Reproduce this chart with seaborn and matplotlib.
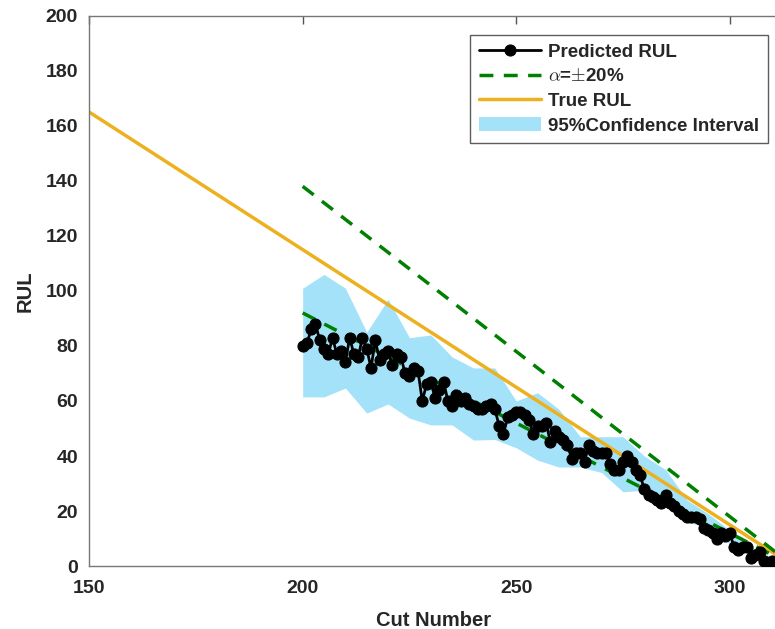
import numpy as np
import pandas as pd
import matplotlib
matplotlib.use('Agg')
import matplotlib.pyplot as plt
import seaborn as sns

# predicted RUL per cut
cuts = list(range(200, 312))
pred_rul = [80, 81, 86, 88, 82, 79, 77, 83, 77, 78,
            74, 83, 77, 76, 83, 79, 72, 82, 75, 77,
            78, 73, 77, 76, 70, 69, 72, 71, 60, 66,
            67, 61, 64, 67, 60, 58, 62, 60, 61, 59,
            58, 57, 57, 58, 59, 57, 51, 48, 54, 55,
            56, 56, 55, 53, 48, 51, 51, 52, 45, 49,
            47, 46, 44, 39, 41, 41, 38, 44, 42, 41,
            41, 41, 37, 35, 35, 38, 40, 38, 35, 33,
            28, 26, 25, 24, 23, 26, 23, 22, 20, 19,
            18, 18, 18, 17, 14, 13, 12, 10, 12, 11,
            12, 7, 6, 7, 7, 3, 4, 5, 2, 1,
            2, 1]

# confidence band corners
band_x = [200, 205, 210, 215, 220, 225, 230, 235, 240, 245, 250, 255,
          260, 265, 270, 275, 280, 285, 290, 295, 300, 305, 310, 312]
band_hi = [101, 106, 101, 85, 97, 83, 84, 76, 72, 72, 60, 63,
           57, 47, 47, 47, 40, 35, 24, 19, 13, 7, 3, 2]
band_lo = [61.5, 61.5, 64.7, 55.6, 58.9, 53.8, 51.3, 51.3, 45.8, 46, 43, 38.5,
           36, 36, 34, 27, 27.6, 22, 16, 14, 8, 4, 1, 0.5]

# true RUL and the +-20% bounds
true_x = [150, 315]
true_rul = [165, 0]
bound_x = [200, 315]
bound_hi = [138, 0]
bound_lo = [92, 0]

sns.set_style('white')
plt.rcParams['font.family'] = ['Liberation Sans', 'DejaVu Sans']
plt.rcParams['mathtext.fontset'] = 'cm'

fig = plt.figure(figsize=(7.75, 6.29), dpi=100)
ax = fig.add_axes([0.115, 0.100, 0.89, 0.875])

pred = pd.DataFrame({'cut': cuts, 'rul': pred_rul})
ax.fill_between(band_x, band_lo, band_hi, color='#A3E2F9', lw=0,
                label='95%Confidence Interval', zorder=1)
sns.lineplot(x=true_x, y=true_rul, ax=ax, color='#EDB120', lw=2.5,
             label='True RUL', zorder=2)
sns.lineplot(x=bound_x, y=bound_hi, ax=ax, color='#008000', lw=2.5,
             linestyle=(0, (4, 3)), label=r'$\alpha$=$\pm$20%', zorder=3)
sns.lineplot(x=bound_x, y=bound_lo, ax=ax, color='#008000', lw=2.5,
             linestyle=(0, (4, 3)), zorder=3)
sns.lineplot(data=pred, x='cut', y='rul', ax=ax, color='black', lw=2,
             marker='o', markersize=8, markeredgecolor='black',
             label='Predicted RUL', zorder=4)

ax.set_xlim(150, 311.5)
ax.set_ylim(0, 200)
ax.set_xticks([150, 200, 250, 300])
ax.set_yticks(range(0, 201, 20))
ax.tick_params(direction='in', length=6, width=1, color='#555555',
               top=True, right=False, labelsize=14, pad=10)
for lab in ax.get_xticklabels() + ax.get_yticklabels():
    lab.set_fontweight('bold')
    lab.set_color('#262626')
ax.tick_params(axis='y', pad=8)
for s in ax.spines.values():
    s.set_color('#777777')
    s.set_linewidth(1)
ax.spines['right'].set_visible(False)

ax.set_xlabel('Cut Number', fontsize=14.5, fontweight='bold',
              color='#262626', labelpad=10)
ax.set_ylabel('RUL', fontsize=14.5, fontweight='bold',
              color='#262626', labelpad=8)

h, l = ax.get_legend_handles_labels()
order = [l.index('Predicted RUL'), l.index(r'$\alpha$=$\pm$20%'),
         l.index('True RUL'), l.index('95%Confidence Interval')]
leg = ax.legend([h[i] for i in order], [l[i] for i in order],
                loc='upper right', bbox_to_anchor=(0.992, 0.975),
                prop={'weight': 'bold', 'size': 13.5}, frameon=True,
                fancybox=False, edgecolor='#333333', handlelength=3.3,
                borderpad=0.45, labelspacing=0.4, handletextpad=0.4,
                borderaxespad=0.3)
leg.get_frame().set_linewidth(1)

fig.savefig('out.png', dpi=100)
